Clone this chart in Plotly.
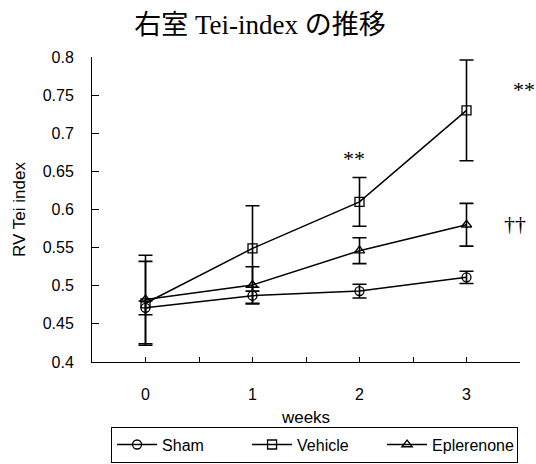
import plotly.graph_objects as go

weeks = [0, 1, 2, 3]
week_labels = ["0", "1", "2", "3"]
sham = [0.471, 0.487, 0.493, 0.511]
sham_err = [0.009, 0.011, 0.009, 0.008]
vehicle = [0.477, 0.549, 0.610, 0.730]
vehicle_err = [0.055, 0.056, 0.032, 0.066]
eplerenone = [0.482, 0.501, 0.546, 0.580]
eplerenone_err = [0.058, 0.024, 0.017, 0.028]

series = [
    ("Sham", sham, sham_err, "circle-open"),
    ("Vehicle", vehicle, vehicle_err, "square-open"),
    ("Eplerenone", eplerenone, eplerenone_err, "triangle-up-open"),
]

fig = go.Figure()
for name, vals, errs, sym in series:
    fig.add_trace(go.Scatter(
        x=weeks, y=vals, name=name, mode="lines+markers",
        line=dict(color="black", width=1.5),
        marker=dict(symbol=sym, size=9, color="black", line=dict(width=1.3, color="black")),
        error_y=dict(type="data", array=errs, visible=True, color="black", thickness=1.6, width=7),
        cliponaxis=False,
    ))

xticks = [-0.5, 0, 0.5, 1, 1.5, 2, 2.5, 3, 3.5]
xtext = ["", week_labels[0], "", week_labels[1], "", week_labels[2], "", week_labels[3], ""]

fig.update_layout(
    width=536, height=464,
    margin=dict(l=92, r=16, t=57, b=102),
    paper_bgcolor="white", plot_bgcolor="white",
    title=dict(text="右室 Tei-index の推移", x=0.485, xanchor="center", y=0.947, yanchor="middle",
               font=dict(family="Liberation Serif, Noto Sans CJK JP", size=27, color="black")),
    font=dict(family="Liberation Sans, Arial", size=16, color="black"),
    xaxis=dict(range=[-0.5, 3.5], tickmode="array", tickvals=xticks, ticktext=xtext,
               ticks="inside", ticklen=5, tickcolor="black", showline=True, linecolor="black",
               linewidth=1, showgrid=False, zeroline=False, ticklabelstandoff=18,
               tickfont=dict(size=16), automargin=False,
               title=dict(text="weeks", font=dict(size=17), standoff=26)),
    yaxis=dict(range=[0.4, 0.8], tickmode="array",
               tickvals=[0.4, 0.45, 0.5, 0.55, 0.6, 0.65, 0.7, 0.75, 0.8],
               ticktext=["0.4", "0.45", "0.5", "0.55", "0.6", "0.65", "0.7", "0.75", "0.8"],
               ticks="inside", ticklen=7, tickcolor="black", showline=True, linecolor="black",
               linewidth=1, showgrid=False, zeroline=False, ticklabelstandoff=14,
               tickfont=dict(size=16), automargin=False,
               title=dict(text="RV Tei index", font=dict(size=17), standoff=12)),
    legend=dict(orientation="h", x=0.52, xanchor="center", y=0.003, yanchor="bottom",
                yref="container",
                bordercolor="black", borderwidth=1, bgcolor="white",
                font=dict(size=16), tracegroupgap=0, itemwidth=40,
                entrywidth=80, entrywidthmode="pixels"),
    showlegend=True,
)

annots = [
    ("x", 1.95, 0.667, "**"),
    ("paper", 1.009, 0.757, "**"),
    ("x", 3.455, 0.582, "††"),
]
for xr, ax_, ay_, txt in annots:
    fig.add_annotation(x=ax_, y=ay_, xref=xr, yref="y", text=txt, showarrow=False,
                       font=dict(family="Liberation Serif", size=22, color="black"),
                       xanchor="center", yanchor="middle")

fig.write_html("out.html", config={"displayModeBar": False},
               post_script="document.body.style.margin='0px';document.body.style.overflow='hidden';")
